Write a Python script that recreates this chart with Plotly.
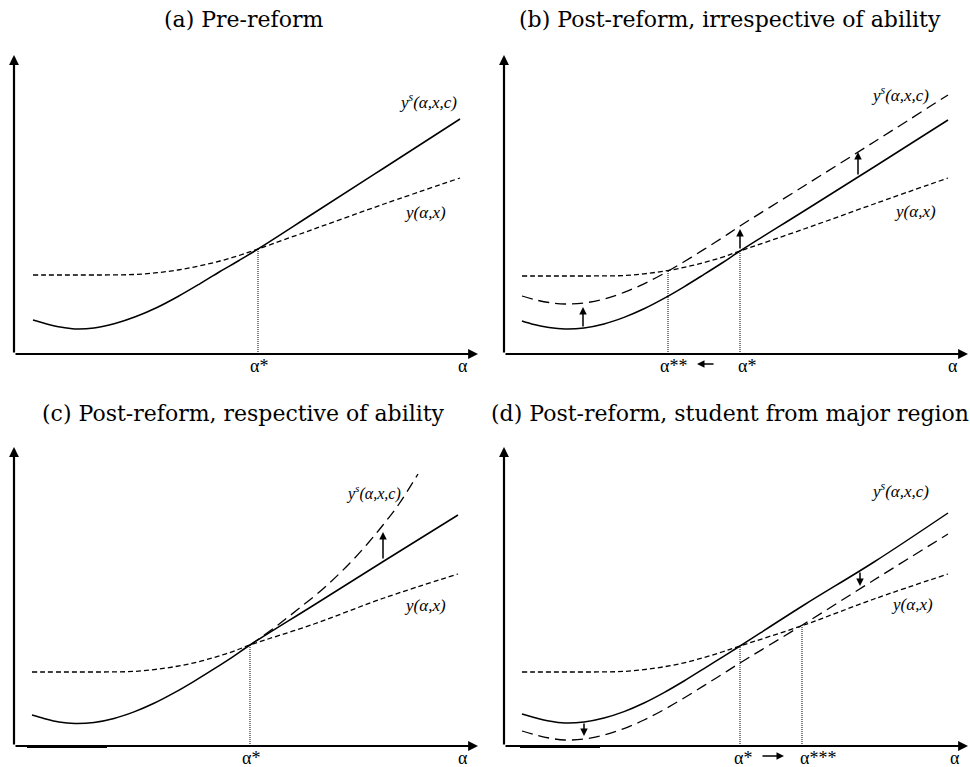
import plotly.graph_objects as go

# ---------------- data (panel units: x right from origin, y up from origin) -------------
grid_x = [18, 30, 45, 61, 80, 100, 120, 140, 160, 180, 200, 218, 236, 300, 370, 444]

a_x = [19, 31, 46, 61, 80, 101, 122, 143, 164, 185, 206, 225, 244, 300, 370, 446]
a_solid = [34, 30.5, 27, 25, 26, 30.5, 37.5, 46.5, 57.5, 69.7, 82.5, 93.5, 105, 141, 186, 235]
a_short = [79, 79, 79, 79, 79, 79.1, 79.6, 81.3, 84, 88, 93, 98.5, 105, 125, 150, 176]

b_solid = [33, 29.5, 26.5, 25, 26, 30, 36.6, 45.2, 55.6, 67.2, 79.6, 91, 103, 143, 187, 234]
b_short = [78, 78, 78, 78, 78, 78.1, 78.5, 80.2, 82.8, 86.6, 91.5, 96.7, 103, 125, 150, 176]
b_long = [58, 54.5, 51.5, 50, 51, 55, 61.6, 70.2, 80.6, 92.2, 104.6, 116, 128, 168, 212, 259]

c_solid = [31, 27.5, 24, 22.5, 23.5, 27.5, 34.1, 42.7, 53.1, 64.7, 77.1, 88.7, 101, 141, 185, 231]
c_short = [74, 74, 74, 74, 74, 74.1, 74.6, 76.4, 79.2, 83.2, 88.5, 94.2, 101, 122, 148, 172]
c_long_x = [236, 260, 283, 310, 336, 355, 369, 385, 404]
c_long = [101, 118, 136, 158, 183, 204, 221, 242, 272]

d_solid = [32, 28.5, 25, 23, 24, 28, 34.4, 43, 53.4, 65, 77.4, 88.6, 100, 141, 184, 233]
d_short = [74, 74, 74, 74, 74, 74.1, 74.6, 76.4, 79.2, 83.2, 88.5, 94, 100, 121, 147, 172]
d_long = [15, 11.5, 8, 6, 7, 11, 17.4, 26, 36.4, 48, 60.4, 71.6, 83, 122, 166, 212]

titles = ["(a) Pre-reform", "(b) Post-reform, irrespective of ability",
          "(c) Post-reform, respective of ability", "(d) Post-reform, student from major region"]
lbl_ys = "<i>y<sup>s</sup>(α,x,c)</i>"
lbl_y = "<i>y(α,x)</i>"

# ---------------- layout geometry ----------------
W, H = 970, 767
panels = {  # origin px
    "a": dict(x0=14, y0=354),
    "b": dict(x0=504, y0=354),
    "c": dict(x0=14, y0=746),
    "d": dict(x0=504, y0=746),
}
XLEN, YLEN, YPAD = 464, 299, 20

fig = go.Figure()
layout = {}
keys = ["a", "b", "c", "d"]
for i, k in enumerate(keys):
    p = panels[k]
    sfx = "" if i == 0 else str(i + 1)
    layout["xaxis" + sfx] = dict(domain=[p["x0"] / W, (p["x0"] + XLEN) / W], range=[0, XLEN],
                                 visible=False, fixedrange=True, anchor="y" + sfx)
    layout["yaxis" + sfx] = dict(domain=[max(0, 1 - (p["y0"] + YPAD) / H), 1 - (p["y0"] - YLEN) / H],
                                 range=[-YPAD, YLEN], visible=False, fixedrange=True, anchor="x" + sfx)
fig.update_layout(**layout)

def ax(k):
    i = keys.index(k)
    s = "" if i == 0 else str(i + 1)
    return "x" + s, "y" + s

SOLID = dict(color="black", width=1.5)
SHORT = dict(color="black", width=1.3, dash="5px,3px")
LONG = dict(color="black", width=1.3, dash="11px,6px")
DOT = dict(color="black", width=1, dash="1px,1px")

def curve(k, x, y, line, shape="spline"):
    xa, ya = ax(k)
    extra = dict(smoothing=1.0) if shape == "spline" else {}
    fig.add_trace(go.Scatter(x=x, y=y, mode="lines", line=dict(shape=shape, **extra, **line),
                             xaxis=xa, yaxis=ya, showlegend=False, hoverinfo="skip", cliponaxis=False))

def vline(k, x, ytop):
    xa, ya = ax(k)
    fig.add_trace(go.Scatter(x=[x, x], y=[0, ytop], mode="lines", line=DOT,
                             xaxis=xa, yaxis=ya, showlegend=False, hoverinfo="skip"))

annots = []

def arrow(k, x0, y0, x1, y1, width=1.5, head=2, size=1.0):
    xa, ya = ax(k)
    annots.append(dict(x=x1, y=y1, ax=x0, ay=y0, xref=xa, yref=ya, axref=xa, ayref=ya,
                       showarrow=True, arrowhead=head, arrowsize=size, arrowwidth=width,
                       arrowcolor="black", text=""))

def text(k, x, y, s, size=17, font="Liberation Serif"):
    xa, ya = ax(k)
    annots.append(dict(x=x, y=y, xref=xa, yref=ya, text=s, showarrow=False,
                       font=dict(family=font, size=size, color="black")))

# axes
for k in keys:
    arrow(k, 0, 0, XLEN, 0, width=2.2, head=2, size=0.9)
    arrow(k, 0, 0, 0, YLEN, width=2.2, head=2, size=0.9)

# panel a
curve("a", a_x, a_short, SHORT)
curve("a", a_x, a_solid, SOLID)
vline("a", 244, 105)
text("a", 414, 253, lbl_ys)
text("a", 411, 141, lbl_y)
text("a", 245, -12, "α*", 18)
text("a", 449, -12, "α", 18)

# panel b
curve("b", grid_x, b_short, SHORT)
curve("b", grid_x, b_long, LONG)
curve("b", grid_x, b_solid, SOLID)
vline("b", 164, 83)
vline("b", 236, 103)
arrow("b", 79, 26, 79, 47)
arrow("b", 236, 104, 236, 125)
arrow("b", 354, 178, 354, 202)
text("b", 396, 260, lbl_ys)
text("b", 411, 142, lbl_y)
text("b", 169, -12, "α**", 18)
arrow("b", 211, -10, 193, -10, width=1.5)
text("b", 243, -12, "α*", 18)
text("b", 449, -12, "α", 18)

# panel c
curve("c", grid_x, c_short, SHORT)
curve("c", c_long_x, c_long, LONG)
curve("c", grid_x, c_solid, SOLID)
vline("c", 236, 101)
arrow("c", 369, 186, 369, 214)
text("c", 359, 254, lbl_ys, 16)
text("c", 411, 141, lbl_y)
text("c", 237, -12, "α*", 18)
text("c", 449, -12, "α", 18)
curve("c", [13, 93], [-0.6, -0.6], dict(color="black", width=3), shape="linear")

# panel d
curve("d", grid_x, d_short, SHORT)
curve("d", grid_x, d_long, LONG)
curve("d", grid_x, d_solid, SOLID)
vline("d", 236, 100)
vline("d", 298, 121)
arrow("d", 80, 24, 80, 10)
arrow("d", 356, 175, 356, 160)
text("d", 396, 256, lbl_ys)
text("d", 408, 142, lbl_y)
text("d", 239, -12, "α*", 18)
arrow("d", 257, -10, 280, -10, width=1.5)
text("d", 314, -12, "α***", 18)
text("d", 451, -12, "α", 18)
curve("d", [16, 96], [-0.6, -0.6], dict(color="black", width=3), shape="linear")

# titles
title_pos = [(243, 19), (730, 19), (243, 413), (730, 413)]
for t, (px, py) in zip(titles, title_pos):
    annots.append(dict(x=px / W, y=1 - py / H, xref="paper", yref="paper", text=t, showarrow=False,
                       font=dict(family="DejaVu Serif", size=22, color="black"),
                       xanchor="center", yanchor="middle"))

fig.update_layout(annotations=annots, width=W, height=H, margin=dict(l=0, r=0, t=0, b=0),
                  plot_bgcolor="white", paper_bgcolor="white", showlegend=False)
fig.write_html("out.html")
